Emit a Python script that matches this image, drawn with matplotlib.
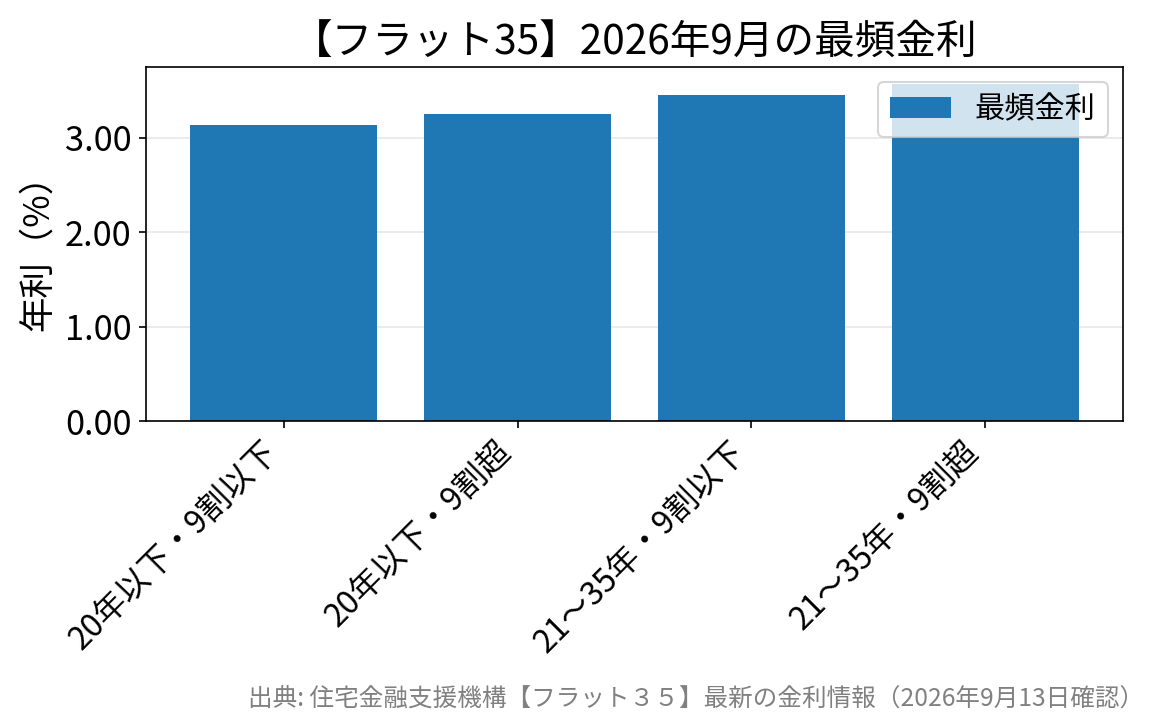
import matplotlib
matplotlib.use("Agg")
import matplotlib.pyplot as plt

plt.rcParams['font.family'] = ['Noto Sans CJK JP', 'DejaVu Sans']

categories = ['20年以下・9割以下', '20年以下・9割超', '21〜35年・9割以下', '21〜35年・9割超']
rates = [3.13, 3.25, 3.45, 3.57]

fig, ax = plt.subplots(figsize=(1165 / 150, 725 / 150), dpi=150)
fig.subplots_adjust(left=0.1253, right=0.964, top=0.9076, bottom=0.4193)

ax.bar(categories, rates, color='#1f77b4', label='最頻金利', zorder=2)
ax.grid(axis='y', alpha=0.3, zorder=0)
ax.set_title('【フラット35】2026年9月の最頻金利', fontsize=19.5)
ax.set_ylabel('年利（%）', fontsize=17)
ax.yaxis.set_major_formatter(matplotlib.ticker.FormatStrFormatter('%.2f'))
ax.tick_params(axis='y', labelsize=16.5)
ax.tick_params(axis='x', labelsize=15.5)
plt.setp(ax.get_xticklabels(), rotation=45, ha='right', rotation_mode='default')
ax.legend(fontsize=14.5, loc='upper right')

fig.text(0.982, 0.018, '出典: 住宅金融支援機構【フラット３５】最新の金利情報（2026年9月13日確認）',
         ha='right', va='bottom', fontsize=11.8, color='gray')

fig.savefig('out.png', dpi=150)
